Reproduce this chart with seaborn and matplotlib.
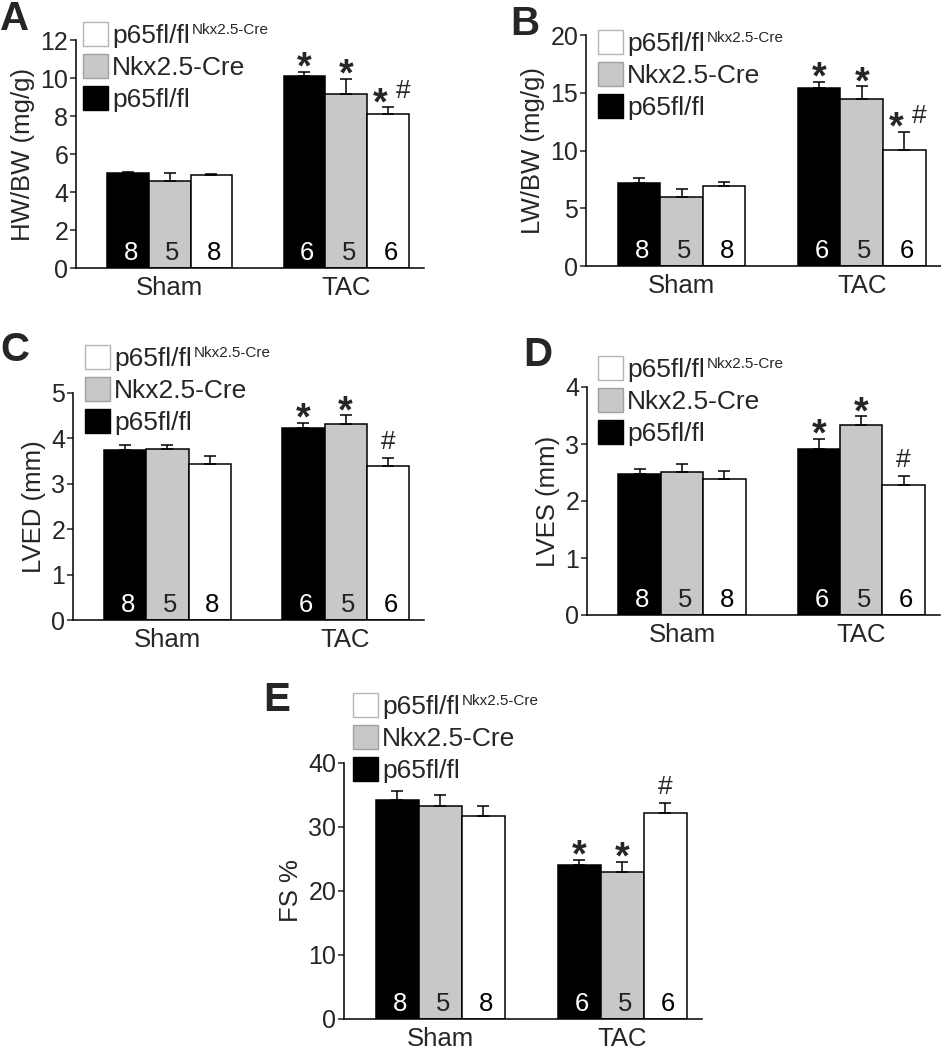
import numpy as np
import pandas as pd
import seaborn as sns
import matplotlib.pyplot as plt
from matplotlib.patches import Patch

# groups and genotypes (bars are black, gray, white inside each group)
groups = ["Sham", "TAC"]
genotypes = ["p65fl/fl", "Nkx2.5-Cre", "p65fl/flNkx2.5-Cre"]
n_mice = [8, 5, 8, 6, 5, 6]

# values: Sham x3 then TAC x3, mean and upper SEM
hw_bw_mean = [5.0, 4.6, 4.9, 10.1, 9.15, 8.1]
hw_bw_sem = [0.07, 0.4, 0.05, 0.23, 0.8, 0.37]
lw_bw_mean = [7.15, 5.98, 6.91, 15.41, 14.46, 10.06]
lw_bw_sem = [0.48, 0.67, 0.35, 0.55, 1.1, 1.54]
lved_mean = [3.74, 3.76, 3.44, 4.22, 4.31, 3.39]
lved_sem = [0.11, 0.09, 0.17, 0.12, 0.2, 0.18]
lves_mean = [2.47, 2.51, 2.39, 2.91, 3.33, 2.28]
lves_sem = [0.09, 0.14, 0.14, 0.18, 0.16, 0.16]
fs_mean = [34.26, 33.22, 31.66, 23.99, 22.95, 32.23]
fs_sem = [1.41, 1.72, 1.61, 0.89, 1.61, 1.56]

marks_weight = ["", "", "", "*", "*", "*#"]
marks_echo = ["", "", "", "*", "*", "#"]

sns.set_style("ticks")
plt.rcParams["font.family"] = ["Liberation Sans", "DejaVu Sans"]

W, H = 941, 1050
fig = plt.figure(figsize=(W / 100, H / 100), dpi=100)

bar_colors = ["black", "#c8c8c8", "white"]
num_colors = ["white", "#222222", "black"]


def draw_panel(letter, box, ylabel, mean, sem, marks, yticks, legend_xy, letter_xy):
    left, top, right, bottom = box
    ax = fig.add_axes([left / W, 1 - bottom / H, (right - left) / W, (bottom - top) / H])

    df = pd.DataFrame({
        "group": np.repeat(groups, 3),
        "genotype": genotypes * 2,
        "value": mean})
    sns.barplot(data=df, x="group", y="value", hue="genotype",
                order=groups, hue_order=genotypes,
                palette=dict(zip(genotypes, bar_colors)),
                edgecolor="black", linewidth=1.1, width=0.71, gap=0,
                errorbar=None, legend=False, ax=ax)

    bars = sorted(ax.patches, key=lambda p: p.get_x())
    centers = [p.get_x() + p.get_width() / 2 for p in bars]

    # only the upper half of the error bar is shown
    ax.errorbar(centers, mean, yerr=[np.zeros(len(sem)), sem], fmt="none",
                ecolor="black", elinewidth=1.1, capsize=4, capthick=1.1, zorder=3)

    for i, (c, m, s, n, mk) in enumerate(zip(centers, mean, sem, n_mice, marks)):
        ax.annotate(str(n), xy=(c, 0), xytext=(2, 2), textcoords="offset points",
                    ha="center", va="bottom", fontsize=18.5, color=num_colors[i % 3])
        if "*" in mk:
            x = c - 0.045 if "#" in mk else c
            ax.annotate("*", xy=(x, m + s), xytext=(0, -5), textcoords="offset points",
                        ha="center", va="baseline", fontsize=27, fontweight="bold")
        if "#" in mk:
            x = c + 0.085 if "*" in mk else c
            ax.annotate("#", xy=(x, m + s), xytext=(0, 6.5), textcoords="offset points",
                        ha="center", va="baseline", fontsize=19)

    ax.set_xlim(-0.53, 1.44)
    ax.set_ylim(0, yticks[-1])
    ax.set_yticks(yticks)
    ax.set_xlabel("")
    ax.set_ylabel(ylabel, fontsize=18.5, labelpad=4)
    ax.tick_params(axis="x", length=0, pad=5.5, labelsize=18.5)
    ax.tick_params(axis="y", length=4, width=1.1, pad=1.5, labelsize=18)
    sns.despine(ax=ax)
    for sp in ("left", "bottom"):
        ax.spines[sp].set_linewidth(1.1)
        ax.spines[sp].set_color("black")

    handles = [Patch(facecolor="white", edgecolor="#b4b4b4", linewidth=1),
               Patch(facecolor="#c8c8c8", edgecolor="#a0a0a0", linewidth=1),
               Patch(facecolor="black", edgecolor="black", linewidth=1)]
    labels = ["p65fl/fl", "Nkx2.5-Cre", "p65fl/fl"]
    leg = ax.legend(handles, labels, loc="upper left",
                    bbox_to_anchor=(legend_xy[0] / W, 1 - legend_xy[1] / H),
                    bbox_transform=fig.transFigure, frameon=False, fontsize=19,
                    handlelength=0.95, handleheight=1.02, handletextpad=0.15,
                    labelspacing=0.22, borderpad=0, borderaxespad=0)
    # superscript on the first legend entry, drawn after the legend
    ax.annotate("Nkx2.5-Cre", xy=(1, 0.6), xycoords=leg.get_texts()[0],
                xytext=(1.5, 0), textcoords="offset points", zorder=6,
                fontsize=11, ha="left", va="baseline")

    fig.text(letter_xy[0] / W, 1 - letter_xy[1] / H, letter, fontsize=29,
             fontweight="bold", ha="left", va="top")
    return ax


draw_panel("A", (76, 40, 424, 268), "HW/BW (mg/g)", hw_bw_mean, hw_bw_sem,
           marks_weight, [0, 2, 4, 6, 8, 10, 12], (83, 22), (0, 0))
draw_panel("B", (586, 35, 941, 266), "LW/BW (mg/g)", lw_bw_mean, lw_bw_sem,
           marks_weight, [0, 5, 10, 15, 20], (598, 30), (510, 5))
draw_panel("C", (73, 393, 424, 620), "LVED (mm)", lved_mean, lved_sem,
           marks_echo, [0, 1, 2, 3, 4, 5], (85, 345), (0, 331))
draw_panel("D", (587, 387, 940, 615), "LVES (mm)", lves_mean, lves_sem,
           marks_echo, [0, 1, 2, 3, 4], (598, 356), (523, 336))
draw_panel("E", (344, 763, 702, 1019), "FS %", fs_mean, fs_sem,
           marks_echo, [0, 10, 20, 30, 40], (353, 693), (263, 681))

fig.savefig("out.png", dpi=100)
